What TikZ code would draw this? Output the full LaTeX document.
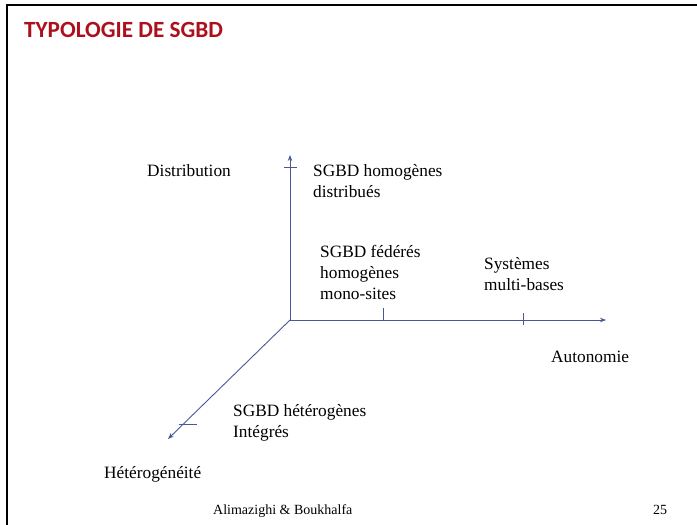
\documentclass[tikz,border=0pt]{standalone}
\usepackage{fontspec}
\setmainfont{Liberation Serif}
\newfontfamily\titlefont{Carlito}
\usetikzlibrary{arrows.meta}
\definecolor{axisblue}{RGB}{72,88,150}
\definecolor{titlered}{RGB}{172,16,28}
\begin{document}
\begin{tikzpicture}[x=1pt,y=-1pt,
  axis/.style={axisblue,line width=0.9pt,-{Stealth[length=6pt,width=4.5pt]}},
  tickmark/.style={axisblue,line width=0.8pt},
  lbl/.style={inner sep=0pt,anchor=base west,align=left,font=\fontsize{17.3}{21}\selectfont}]
\useasboundingbox (0,0) rectangle (697,525);
% slide frame
\draw[line width=2.6pt] (7,525) -- (7,5) -- (697,5);
\node[anchor=base west,inner sep=0pt,text=titlered,font=\titlefont\bfseries\fontsize{23.2}{27}\selectfont] (title) at (24,37) {TYPOLOGIE DE SGBD};

% axes
\coordinate (O) at (290,320);
\coordinate (top) at (290,155);
\coordinate (right) at (606,320);
\coordinate (low) at (168,439);
\draw[axis] (O) -- (top);
\draw[axis] (O) -- (right);
\draw[axis] (O) -- (low);
\draw[tickmark] (284,167) -- (297,167);
\draw[tickmark] (383,308) -- (383,320);
\draw[tickmark] (523,313) -- (523,325);
\draw[tickmark] (179,424) -- (197,424);

% labels (base = last line)
\node[lbl] (distrib) at (147,176) {Distribution};
\node[lbl] (homdist) at (313,197) {SGBD homogènes\\distribués};
\node[lbl] (federes) at (320,299) {SGBD fédérés\\homogènes\\mono-sites};
\node[lbl] (multi) at (484,290) {Systèmes\\multi-bases};
\node[lbl] (auto) at (551,362) {Autonomie};
\node[lbl] (hetero) at (233,437) {SGBD hétérogènes\\Intégrés};
\node[lbl] (heterog) at (104,478) {Hétérogénéité};

% footer
\node[anchor=base west,inner sep=0pt,font=\fontsize{14}{16}\selectfont] (authors) at (213,514) {Alimazighi \& Boukhalfa};
\node[anchor=base west,inner sep=0pt,font=\fontsize{14}{16}\selectfont] (page) at (653,514) {25};
\end{tikzpicture}
\end{document}
